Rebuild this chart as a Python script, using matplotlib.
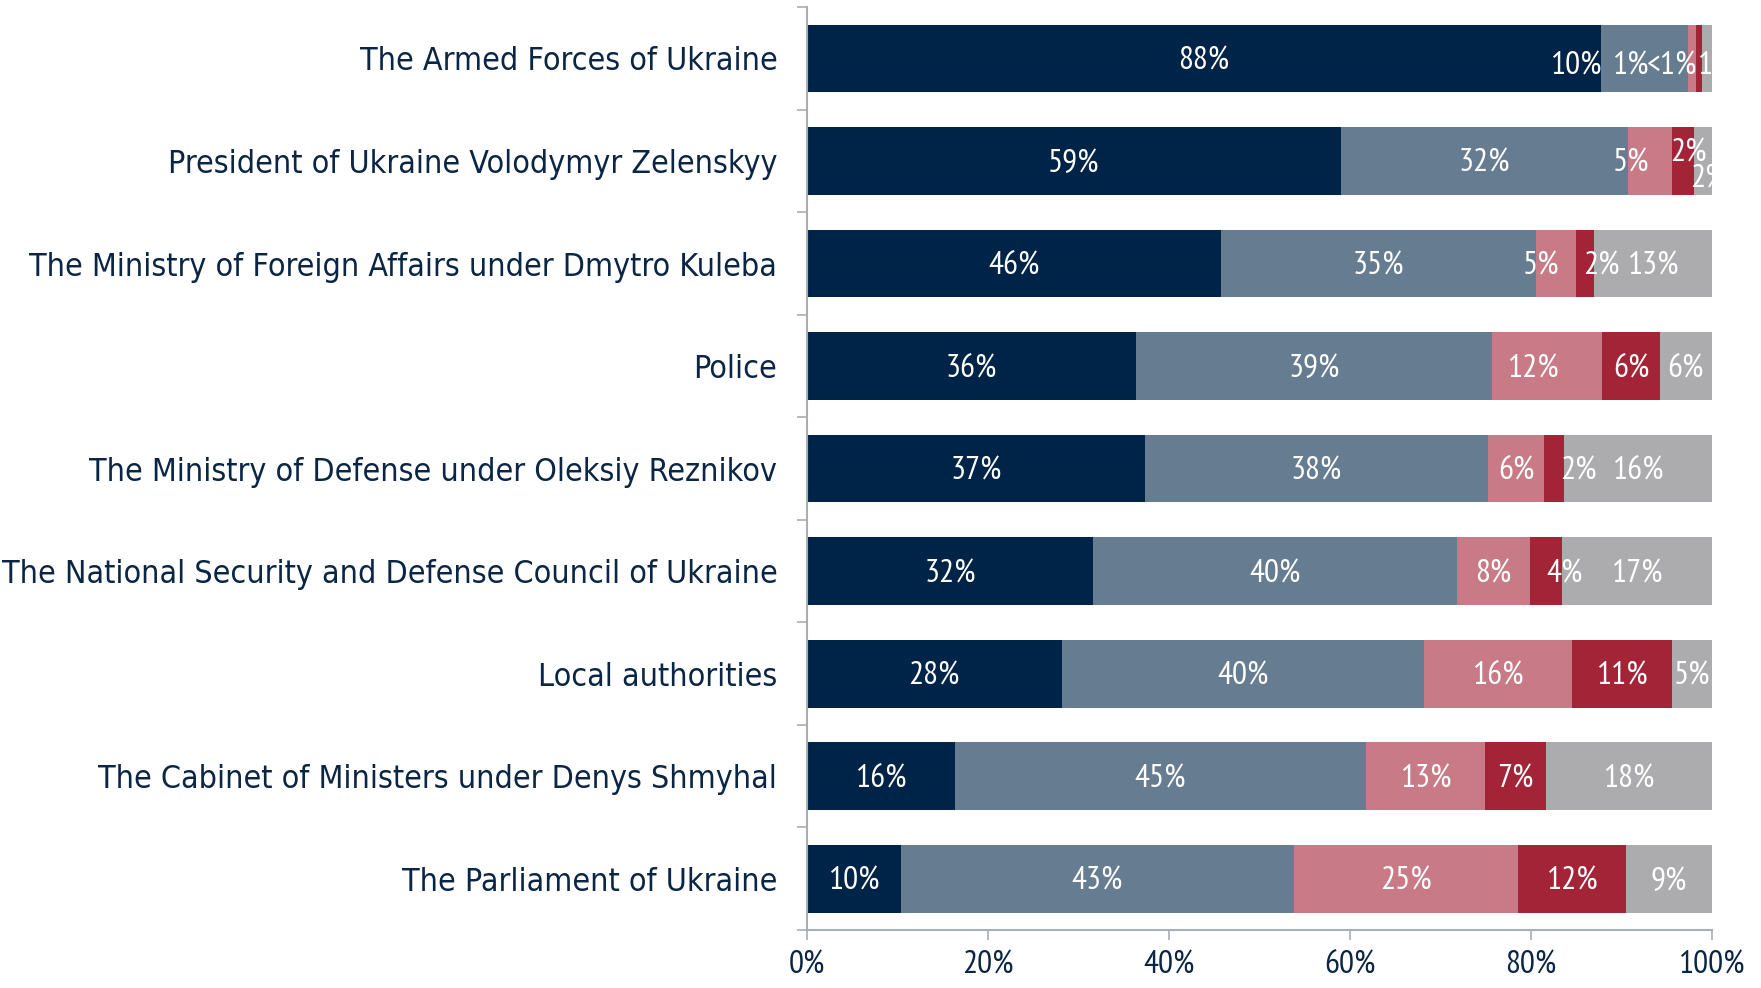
import numpy as np
import matplotlib
matplotlib.use("Agg")
from matplotlib import pyplot as plt

plt.rcParams['font.family'] = ['PT Sans Narrow', 'DejaVu Sans']

categories = [
    "The Armed Forces of Ukraine",
    "President of Ukraine Volodymyr Zelenskyy",
    "The Ministry of Foreign Affairs under Dmytro Kuleba",
    "Police",
    "The Ministry of Defense under Oleksiy Reznikov",
    "The National Security and Defense Council of Ukraine",
    "Local authorities",
    "The Cabinet of Ministers under Denys Shmyhal",
    "The Parliament of Ukraine",
]

# five answer groups, share in %
s_navy = [87.8, 59.1, 45.8, 36.4, 37.4, 31.7, 28.2, 16.4, 10.4]
s_slate = [9.6, 31.6, 34.8, 39.3, 37.9, 40.2, 40.0, 45.4, 43.4]
s_pink = [0.9, 4.9, 4.4, 12.2, 6.2, 8.0, 16.4, 13.2, 24.8]
s_red = [0.6, 2.4, 2.0, 6.4, 2.2, 3.6, 11.0, 6.7, 11.9]
s_gray = [1.1, 2.0, 13.0, 5.7, 16.3, 16.5, 4.4, 18.3, 9.5]

labels_navy = ["88%", "59%", "46%", "36%", "37%", "32%", "28%", "16%", "10%"]
labels_slate = ["10%", "32%", "35%", "39%", "38%", "40%", "40%", "45%", "43%"]
labels_pink = ["1%", "5%", "5%", "12%", "6%", "8%", "16%", "13%", "25%"]
labels_red = ["<1%", "2%", "2%", "6%", "2%", "4%", "11%", "7%", "12%"]
labels_gray = ["1%", "2%", "13%", "6%", "16%", "17%", "5%", "18%", "9%"]

series = [s_navy, s_slate, s_pink, s_red, s_gray]
series_labels = [labels_navy, labels_slate, labels_pink, labels_red, labels_gray]
colors = ['#002447', '#667c91', '#c87b86', '#a32437', '#acacae']

# label nudges (row, series) -> (dx in %, dy in px), like the hand-placed Excel labels
nudge = {
    (0, 1): (-7.6, -5), (0, 2): (-6.9, -5), (0, 3): (-3.0, -5), (0, 4): (1.0, -5),
    (1, 2): (-2.1, 0), (1, 3): (0.6, 10), (1, 4): (0.6, -16),
    (2, 2): (-1.6, 0), (2, 3): (1.8, 0),
    (3, 2): (-1.6, 0),
    (4, 3): (2.7, 0),
    (5, 3): (2.0, 0),
}

text_color = '#0b2545'
spine_color = '#a9adb5'

fig = plt.figure(figsize=(17.61, 9.88), dpi=100)
ax = fig.add_axes([0.458, 0.0587, 0.514, 0.934])

y = np.arange(len(categories))
left = np.zeros(len(categories))
for k, (vals, labs) in enumerate(zip(series, series_labels)):
    vals = np.array(vals)
    ax.barh(y, vals, left=left, height=0.66, color=colors[k], edgecolor='none')
    for i in range(len(categories)):
        dx, dy = nudge.get((i, k), (0, 0))
        ax.annotate(labs[i], (left[i] + vals[i] / 2 + dx, y[i]),
                    xytext=(0, (dy - 3) * 0.72), textcoords='offset points',
                    ha='center', va='center', color='white', fontsize=24,
                    annotation_clip=False, clip_on=True)
    left += vals

ax.set_xlim(0, 100)
ax.set_ylim(len(categories) - 0.5, -0.5)
ax.set_xticks(np.arange(0, 101, 20))
ax.set_xticklabels([f"{v}%" for v in range(0, 101, 20)])
ax.set_yticks(y)
ax.set_yticklabels(categories, family='DejaVu Sans', stretch='condensed', fontsize=23)
ax.set_yticks(np.arange(-0.5, len(categories), 1), minor=True)

ax.tick_params(axis='y', which='major', length=0, pad=21, labelcolor=text_color)
ax.tick_params(axis='y', which='minor', length=7, width=1.2, color=spine_color, direction='out')
ax.tick_params(axis='x', length=7, width=1.2, color=spine_color, pad=8, labelsize=24, labelcolor=text_color)

for side in ['top', 'right']:
    ax.spines[side].set_visible(False)
for side in ['left', 'bottom']:
    ax.spines[side].set_color(spine_color)
    ax.spines[side].set_linewidth(1.5)

fig.savefig("out.png", dpi=100)
